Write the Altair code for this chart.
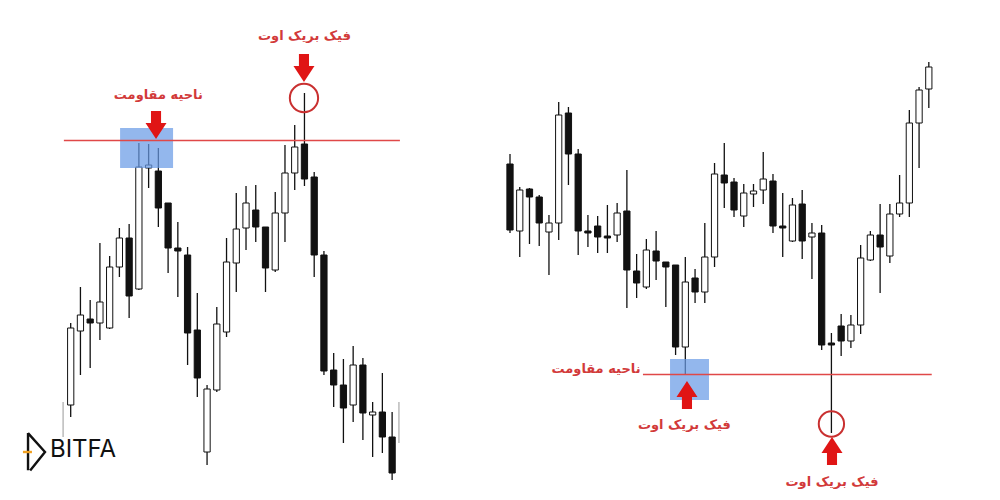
import altair as alt
import pandas as pd

# ---------------- Left panel: fake breakout above resistance ----------------
L_open  = [95, 169, 181, 177, 172, 233, 262, 211, 332, 329, 297, 252, 245, 170, 48, 110, 168,
           237, 272, 290, 273, 230, 287, 327, 356, 323, 245, 130, 115, 95, 135, 85, 88, 63]
L_high  = [177, 213, 200, 257, 244, 272, 276, 357, 356, 352, 297, 278, 253, 207, 115, 193, 262,
           307, 314, 315, 273, 308, 355, 375, 407, 328, 249, 147, 141, 154, 142, 98, 127, 88]
L_low   = [83, 125, 132, 160, 171, 223, 182, 210, 312, 273, 227, 203, 135, 103, 35, 108, 163,
           208, 250, 258, 208, 228, 258, 310, 314, 223, 125, 93, 57, 78, 60, 43, 47, 20]
L_close = [172, 185, 177, 198, 233, 262, 204, 333, 335, 292, 252, 249, 167, 122, 111, 176, 238,
           271, 297, 273, 232, 287, 327, 353, 321, 245, 129, 115, 92, 135, 87, 88, 63, 27]
# faint cut-off wicks at the panel edges
L_frag_i    = [-0.78, 33.7]
L_frag_high = [98, 98]
L_frag_low  = [63, 57]

# ---------------- Right panel: fake breakout below support ----------------
R_open  = [336, 269, 311, 303, 268, 277, 387, 346, 269, 274, 264, 265, 289, 229, 213, 249, 238,
           235, 153, 222, 208, 243, 325, 318, 284, 306, 310, 319, 274, 259, 296, 263, 267, 157,
           174, 159, 175, 240, 265, 244, 286, 297, 377, 411]
R_high  = [346, 313, 312, 305, 285, 398, 393, 351, 285, 284, 295, 297, 330, 246, 261, 269, 238,
           235, 243, 231, 277, 337, 357, 322, 316, 316, 348, 326, 307, 302, 310, 277, 275, 167,
           186, 185, 255, 269, 296, 296, 325, 390, 413, 438]
R_low   = [267, 243, 256, 254, 225, 260, 315, 245, 253, 247, 247, 258, 192, 202, 211, 220, 193,
           145, 125, 197, 197, 233, 292, 283, 273, 293, 296, 267, 243, 258, 241, 221, 150, 67,
           144, 152, 166, 239, 207, 237, 283, 283, 332, 392]
R_close = [270, 310, 303, 277, 277, 385, 346, 269, 267, 263, 262, 287, 230, 217, 250, 239, 233,
           153, 218, 208, 243, 326, 317, 290, 307, 309, 321, 274, 272, 295, 259, 267, 155, 155,
           159, 175, 242, 265, 253, 286, 297, 377, 410, 433]

# ---------------- Annotations ----------------
label_zone = "ناحیه مقاومت"
label_fake = "فیک بریک اوت"
logo_text = "BITFA"

RED_TEXT = "#d23a3a"
RED_ARROW = "#e01515"
RED_LINE = "#e04848"
RED_CIRCLE = "#c93030"
BLUE = "#6a9be6"

ARROW_DOWN = "M-0.48,-1.33L0.48,-1.33L0.48,-0.19L1,-0.19L0,1.33L-1,-0.19L-0.48,-0.19Z"
ARROW_UP = "M-0.48,1.33L0.48,1.33L0.48,0.19L1,0.19L0,-1.33L-1,0.19L-0.48,0.19Z"

YS = alt.Scale(domain=[8, 492], nice=False, zero=False)
XL = alt.Scale(domain=[-6.437, 42.844], nice=False, zero=False)
XR = alt.Scale(domain=[-2.259, 49.487], nice=False, zero=False)


def candles(o, h, l, c, xs):
    df = pd.DataFrame({"i": list(range(len(o))), "open": o, "high": h, "low": l, "close": c})
    base = alt.Chart(df)
    wick = base.mark_rule(color="#111111", strokeWidth=1.3).encode(
        x=alt.X("i:Q", scale=xs, axis=None),
        y=alt.Y("low:Q", scale=YS, axis=None),
        y2="high:Q",
    )
    body = base.transform_calculate(x0="datum.i - 0.32", x1="datum.i + 0.32").mark_rect(
        stroke="#111111", strokeWidth=1
    ).encode(
        x=alt.X("x0:Q", scale=xs, axis=None),
        x2="x1:Q",
        y=alt.Y("open:Q", scale=YS, axis=None),
        y2="close:Q",
        fill=alt.condition("datum.close >= datum.open", alt.value("white"), alt.value("#111111")),
    )
    return [wick, body]


def zone(x0, x1, p0, p1, xs):
    df = pd.DataFrame({"x0": [x0], "x1": [x1], "p0": [p0], "p1": [p1]})
    return alt.Chart(df).mark_rect(color=BLUE, opacity=0.72).encode(
        x=alt.X("x0:Q", scale=xs, axis=None), x2="x1:Q",
        y=alt.Y("p0:Q", scale=YS, axis=None), y2="p1:Q")


def level(x0, x1, p, xs):
    df = pd.DataFrame({"x0": [x0], "x1": [x1], "p": [p]})
    return alt.Chart(df).mark_rule(color=RED_LINE, strokeWidth=1.5).encode(
        x=alt.X("x0:Q", scale=xs, axis=None), x2="x1:Q",
        y=alt.Y("p:Q", scale=YS, axis=None))


def symbol(x, p, shape, size, xs, filled=True, color=RED_ARROW, sw=2):
    df = pd.DataFrame({"x": [x], "p": [p]})
    if filled:
        m = alt.Chart(df).mark_point(shape=shape, size=size, filled=True, color=color,
                                     opacity=1, strokeWidth=0)
    else:
        m = alt.Chart(df).mark_point(shape=shape, size=size, filled=False, stroke=color,
                                     strokeWidth=sw, opacity=1)
    return m.encode(x=alt.X("x:Q", scale=xs, axis=None), y=alt.Y("p:Q", scale=YS, axis=None))


def label(x, p, txt, xs, size=13, color=RED_TEXT, font="DejaVu Sans", weight="bold", align="center"):
    df = pd.DataFrame({"x": [x], "p": [p], "t": [txt]})
    return alt.Chart(df).mark_text(font=font, fontSize=size, fontWeight=weight, color=color,
                                   align=align, baseline="middle").encode(
        x=alt.X("x:Q", scale=xs, axis=None), y=alt.Y("p:Q", scale=YS, axis=None), text="t:N")


frag = pd.DataFrame({"i": L_frag_i, "high": L_frag_high, "low": L_frag_low})
frag_layer = alt.Chart(frag).mark_rule(color="#b0b0b0", strokeWidth=1.3).encode(
    x=alt.X("i:Q", scale=XL, axis=None), y=alt.Y("low:Q", scale=YS, axis=None), y2="high:Q")

ICON = "M-0.41,-0.97L-0.41,0.93M-0.41,-0.97L0.46,0L-0.3,0.95"

left = alt.layer(
    frag_layer,
    *candles(L_open, L_high, L_low, L_close, XL),
    zone(5.07, 10.51, 372, 332, XL),
    level(-0.7, 33.8, 359.5, XL),
    symbol(8.76, 375, ARROW_DOWN, 441, XL),
    symbol(23.95, 432, ARROW_DOWN, 441, XL),
    symbol(23.95, 402, "circle", 800, XL, filled=False, color=RED_CIRCLE),
    label(9.0, 405, label_zone, XL),
    label(24.0, 464, label_fake, XL),
    symbol(-3.56, 48, ICON, 1521, XL, filled=False, color="#111111", sw=2.4),
    symbol(-4.44, 48, "M-1,0L1,0", 81, XL, filled=False, color="#f0a020", sw=2.4),
    label(-2.13, 50, logo_text, XL, size=24, color="#111111", font="Inter", weight=400, align="left"),
).properties(width=480, height=484)

right = alt.layer(
    *candles(R_open, R_high, R_low, R_close, XR),
    zone(16.43, 20.43, 141, 100, XR),
    level(13.65, 43.3, 125.5, XR),
    symbol(18.17, 105, ARROW_UP, 441, XR),
    symbol(33.06, 49, ARROW_UP, 441, XR),
    symbol(33.0, 76, "circle", 640, XR, filled=False, color=RED_CIRCLE),
    label(8.83, 131, label_zone, XR),
    label(17.9, 75, label_fake, XR),
    label(33.06, 18, label_fake, XR),
).properties(width=504, height=484)

chart = alt.hconcat(left, right, spacing=0).properties(padding=0).configure_view(stroke=None)

chart.save("out.html", embed_options={"renderer": "svg", "actions": False})
